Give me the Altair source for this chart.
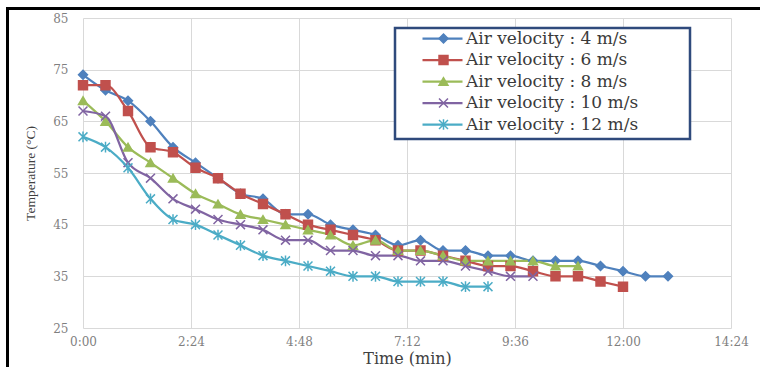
import altair as alt
import pandas as pd

# Series names (legend order) and their colours / marker shapes
SERIES = [
    "Air velocity : 4 m/s",
    "Air velocity : 6 m/s",
    "Air velocity : 8 m/s",
    "Air velocity : 10 m/s",
    "Air velocity : 12 m/s",
]
COLORS = ["#4F81BD", "#C0504D", "#9BBB59", "#8064A2", "#4BACC6"]
X_PATH = "M-1,-1L1,1M-1,1L1,-1"
STAR_PATH = "M-1,-1L1,1M-1,1L1,-1M0,-1.2L0,1.2"
SHAPES = ["diamond", "square", "triangle-up", X_PATH, STAR_PATH]
# Long horizontal stroke used as the line sample in the legend
LEGEND_LINE_PATH = "M-4,0L4,0"

# Sampling times in minutes (every 30 s)
TIME_MIN = [0, 0.5, 1, 1.5, 2, 2.5, 3, 3.5, 4, 4.5, 5, 5.5, 6, 6.5,
            7, 7.5, 8, 8.5, 9, 9.5, 10, 10.5, 11, 11.5, 12, 12.5, 13]

# Temperatures (°C) for each air velocity
TEMP_4 = [74, 71, 69, 65, 60, 57, 54, 51, 50, 47, 47, 45, 44, 43,
          41, 42, 40, 40, 39, 39, 38, 38, 38, 37, 36, 35, 35]
TEMP_6 = [72, 72, 67, 60, 59, 56, 54, 51, 49, 47, 45, 44, 43, 42,
          40, 40, 39, 38, 37, 37, 36, 35, 35, 34, 33]
TEMP_8 = [69, 65, 60, 57, 54, 51, 49, 47, 46, 45, 44, 43, 41, 42,
          40, 40, 39, 38, 38, 38, 38, 37, 37]
TEMP_10 = [67, 66, 57, 54, 50, 48, 46, 45, 44, 42, 42, 40, 40, 39,
           39, 38, 38, 37, 36, 35, 35]
TEMP_12 = [62, 60, 56, 50, 46, 45, 43, 41, 39, 38, 37, 36, 35, 35,
           34, 34, 34, 33, 33]

X_TICKS = [0, 2.4, 4.8, 7.2, 9.6, 12, 14.4]
X_TICK_LABELS = ["0:00", "2:24", "4:48", "7:12", "9:36", "12:00", "14:24"]
Y_TICKS = [25, 35, 45, 55, 65, 75, 85]

rows = []
for name, temps in zip(SERIES, [TEMP_4, TEMP_6, TEMP_8, TEMP_10, TEMP_12]):
    for t, v in zip(TIME_MIN, temps):
        rows.append({"time": t, "temp": v, "series": name, "marker": name})
df = pd.DataFrame(rows)

label_expr = (
    "[" + ",".join("'" + s + "'" for s in X_TICK_LABELS) + "]"
    + "[indexof([" + ",".join(str(v) for v in X_TICKS) + "], datum.value)]"
)

W, H = 648, 310
PAD_L, PAD_T = 83, 18

x_enc = alt.X(
    "time:Q",
    scale=alt.Scale(domain=[0, 14.4], nice=False, zero=False),
    axis=alt.Axis(
        values=X_TICKS, labelExpr=label_expr, title="Time (min)",
        labelPadding=8, labelFlush=False,
        titleX=W / 2, titleY=30, titleBaseline="middle",
        titleFont="DejaVu Serif", titleFontSize=16,
    ),
)
y_enc = alt.Y(
    "temp:Q",
    scale=alt.Scale(domain=[25, 85], nice=False, zero=False),
    axis=alt.Axis(
        values=Y_TICKS, title="Temperature (°C)", labelPadding=15, labelFlush=False,
        titleX=-53, titleY=H / 2, titleAngle=-90, titleAlign="center",
        titleBaseline="middle", titleFont="Liberation Serif", titleFontSize=13.5,
    ),
)

LEG_FONT = "DejaVu Serif"
LEG_SIZE = 17
LEG_ROW_PAD = 3.5
LEG_Y = 12

lines = alt.Chart(df).mark_line(strokeWidth=2.25, interpolate="monotone").encode(
    x=x_enc,
    y=y_enc,
    color=alt.Color(
        "series:N", sort=SERIES, scale=alt.Scale(range=COLORS),
        legend=alt.Legend(
            orient="none", legendX=351, legendY=LEG_Y, title=None,
            symbolType=LEGEND_LINE_PATH, symbolSize=100, symbolStrokeWidth=2.25,
            labelFont=LEG_FONT, labelFontSize=LEG_SIZE, labelColor="#3a3a3a",
            labelOffset=15, labelLimit=0, rowPadding=LEG_ROW_PAD, padding=0,
        ),
    ),
)

# Marker legend laid over the line legend; its labels are blank spaces
pt_legend = alt.Legend(
    orient="none", legendX=352, legendY=LEG_Y, title=None,
    symbolSize=80, symbolStrokeWidth=1.5,
    labelFont=LEG_FONT, labelFontSize=LEG_SIZE, labelExpr="' '",
    labelLimit=0, rowPadding=LEG_ROW_PAD, padding=0,
)

points = alt.Chart(df).mark_point(filled=True, size=80, strokeWidth=1.5, opacity=1).encode(
    x=x_enc,
    y=y_enc,
    fill=alt.Fill("marker:N", scale=alt.Scale(domain=SERIES, range=COLORS), legend=pt_legend),
    stroke=alt.Stroke("marker:N", scale=alt.Scale(domain=SERIES, range=COLORS), legend=pt_legend),
    shape=alt.Shape("marker:N", scale=alt.Scale(domain=SERIES, range=SHAPES), legend=pt_legend),
)

one = pd.DataFrame({"k": [0]})

# White legend panel with navy border
legend_box = alt.Chart(one).mark_rect(fill="white", stroke="#2F4A7C", strokeWidth=2.5).encode(
    x=alt.value(312), x2=alt.value(607), y=alt.value(10), y2=alt.value(121)
)

# Black frame along the left and top edges
frame_left = alt.Chart(one).mark_rule(color="black", strokeWidth=3).encode(
    x=alt.value(7.5 - PAD_L), y=alt.value(-9.5), y2=alt.value(367 - PAD_T)
)
frame_top = alt.Chart(one).mark_rule(color="black", strokeWidth=3).encode(
    y=alt.value(-9.5), x=alt.value(6 - PAD_L), x2=alt.value(760 - PAD_L)
)

chart = (
    alt.layer(legend_box, lines, points, frame_left, frame_top)
    .properties(
        width=W, height=H,
        autosize=alt.AutoSizeParams(type="none"),
        padding={"left": PAD_L, "top": PAD_T, "right": 760 - PAD_L - W, "bottom": 367 - PAD_T - H},
        background="white",
    )
    .configure_view(stroke=None)
    .configure_axis(
        grid=True, gridColor="#D9D9D9", gridWidth=1, domain=False, ticks=False,
        labelFont="DejaVu Serif", labelFontSize=12, labelColor="#7F7F7F",
        titleColor="#404040", titleFontWeight="normal",
    )
)

chart.save("out.html", embed_options={"renderer": "svg", "actions": False})
